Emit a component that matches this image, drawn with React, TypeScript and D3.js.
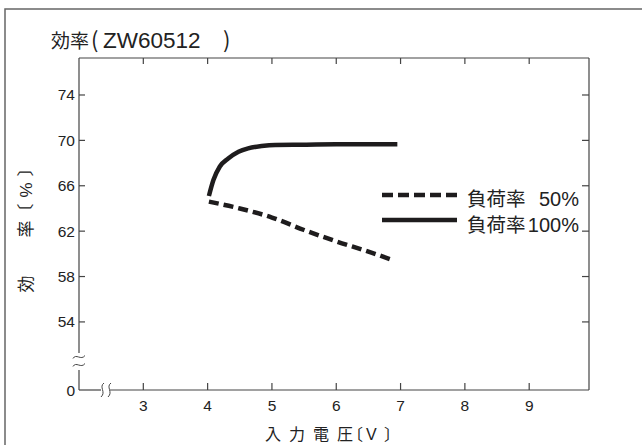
import React from "react";
import * as d3 from "d3";

const titleMain = "効率";
const titleModel = "ZW60512";
const xTitle = "入力電圧〔V〕";
const yTitleParts = ["効", "率", "〔", "%", "〕"];
const xTicks = [3, 4, 5, 6, 7, 8, 9];
const yTicks = [54, 58, 62, 66, 70, 74];
const yBaseLabel = "0";
const yBaseValue = 48;

const load100X = [4.02, 4.09, 4.19, 4.32, 4.48, 4.63, 4.84, 5.05, 5.5, 6.0, 6.5, 6.95];
const load100Y = [65.1, 66.5, 67.7, 68.4, 69.0, 69.3, 69.5, 69.6, 69.62, 69.65, 69.65, 69.65];

const load50X = [4.02, 4.5, 5.0, 5.5, 6.0, 6.5, 6.9];
const load50Y = [64.6, 64.0, 63.2, 62.1, 61.1, 60.2, 59.4];

const legendNames = ["負荷率", "負荷率"];
const legendValues = ["50%", "100%"];

const FONT = "'Liberation Sans', Arial, 'Noto Sans CJK JP', sans-serif";
const CJK = "'Noto Sans CJK JP', sans-serif";

export default function App() {
  const L = 79, R = 589, T = 58, B = 390;
  const x = d3.scaleLinear().domain([2, 9.93]).range([L, R]);
  const y = d3.scaleLinear().domain([yBaseValue, 77.26]).range([B, T]);
  const line = d3.line<[number, number]>().x(d => x(d[0])).y(d => y(d[1])).curve(d3.curveMonotoneX);
  const solid = line(load100X.map((v, i) => [v, load100Y[i]]))!;
  const dashed = line(load50X.map((v, i) => [v, load50Y[i]]))!;
  const axisColor = "#444";
  const ink = "#222";
  const tilde = (cx: number, cy: number) => `M${cx - 6},${cy + 1.5} C${cx - 3},${cy - 4} ${cx + 2},${cy + 4} ${cx + 6},${cy - 1.5}`;
  const vsq = (cx: number, cy: number) => `M${cx + 1.5},${cy - 7} C${cx - 4},${cy - 3} ${cx + 4},${cy + 2} ${cx - 1.5},${cy + 7}`;
  const yTitleY = [284, 229, 212, 190, 168];
  return (
    <svg width={642} height={445} style={{ position: "absolute", left: 0, top: 0, background: "#fff" }} fontFamily={FONT}>
      <rect x={0} y={0} width={642} height={445} fill="#fff" />
      <path d="M5,460 L5,9 L660,9" fill="none" stroke="#666" strokeWidth={1.5} />
      <text y={48} fill={ink}>
        <tspan x={51} fontSize={19}>{titleMain}</tspan>
        <tspan x={91} fontSize={22} fontFamily={CJK}>(</tspan>
        <tspan x={103} fontSize={22.5}>{titleModel}</tspan>
        <tspan x={223} fontSize={22} fontFamily={CJK}>)</tspan>
      </text>
      {/* axes */}
      <line x1={L} x2={R} y1={T} y2={T} stroke={axisColor} strokeWidth={1.2} />
      <line x1={R} x2={R} y1={T} y2={B} stroke={axisColor} strokeWidth={1.2} />
      <line x1={L} x2={L} y1={T} y2={353} stroke={axisColor} strokeWidth={1.2} />
      <line x1={L} x2={L} y1={370} y2={B} stroke={axisColor} strokeWidth={1.2} />
      <line x1={L} x2={101} y1={B} y2={B} stroke={axisColor} strokeWidth={1.2} />
      <line x1={110} x2={R} y1={B} y2={B} stroke={axisColor} strokeWidth={1.2} />
      <path d={tilde(L, 357)} fill="none" stroke={axisColor} strokeWidth={1} />
      <path d={tilde(L, 365)} fill="none" stroke={axisColor} strokeWidth={1} />
      <path d={vsq(102.5, B)} fill="none" stroke={axisColor} strokeWidth={1} />
      <path d={vsq(109.5, B)} fill="none" stroke={axisColor} strokeWidth={1} />
      {xTicks.map(t => (
        <g key={"x" + t}>
          <line x1={x(t)} x2={x(t)} y1={B} y2={B - 7} stroke={axisColor} strokeWidth={1.2} />
          <line x1={x(t)} x2={x(t)} y1={T} y2={T + 6} stroke={axisColor} strokeWidth={1.2} />
          <text x={x(t)} y={411} fontSize={15.5} textAnchor="middle" fill={ink}>{t}</text>
        </g>
      ))}
      {yTicks.map(t => (
        <g key={"y" + t}>
          <line x1={L} x2={L + 6} y1={y(t)} y2={y(t)} stroke={axisColor} strokeWidth={1.2} />
          <line x1={R} x2={R - 7} y1={y(t)} y2={y(t)} stroke={axisColor} strokeWidth={1.2} />
          <text x={75} y={y(t) + 5.5} fontSize={15.5} textAnchor="end" fill={ink}>{t}</text>
        </g>
      ))}
      <text x={75} y={y(yBaseValue) + 5.5} fontSize={15.5} textAnchor="end" fill={ink}>{yBaseLabel}</text>
      {/* axis titles */}
      <text x="265 289 313 337 347 366 384" y={440} fontSize={16} fill={ink}>{xTitle}</text>
      {yTitleParts.map((p, i) => (
        <text key={"yt" + i} transform={`translate(26,${yTitleY[i]}) rotate(-90)`} fontSize={17} textAnchor="middle" dominantBaseline="central" fill={ink}>{p}</text>
      ))}
      {/* series */}
      <path d={solid} fill="none" stroke="#1e1c1d" strokeWidth={4.5} />
      <path d={dashed} fill="none" stroke="#1e1c1d" strokeWidth={4.5} strokeDasharray="10,5" />
      {/* legend */}
      <line x1={382} x2={457} y1={195} y2={195} stroke="#1e1c1d" strokeWidth={4.5} strokeDasharray="11,5" />
      <line x1={382} x2={457} y1={220} y2={220} stroke="#1e1c1d" strokeWidth={4.5} />
      {legendNames.map((n, i) => (
        <g key={"lg" + i}>
          <text x={467} y={206 + i * 26} fontSize={19.5} fill={ink}>{n}</text>
          <text x={579} y={206 + i * 26} fontSize={20} textAnchor="end" fill={ink}>{legendValues[i]}</text>
        </g>
      ))}
    </svg>
  );
}
